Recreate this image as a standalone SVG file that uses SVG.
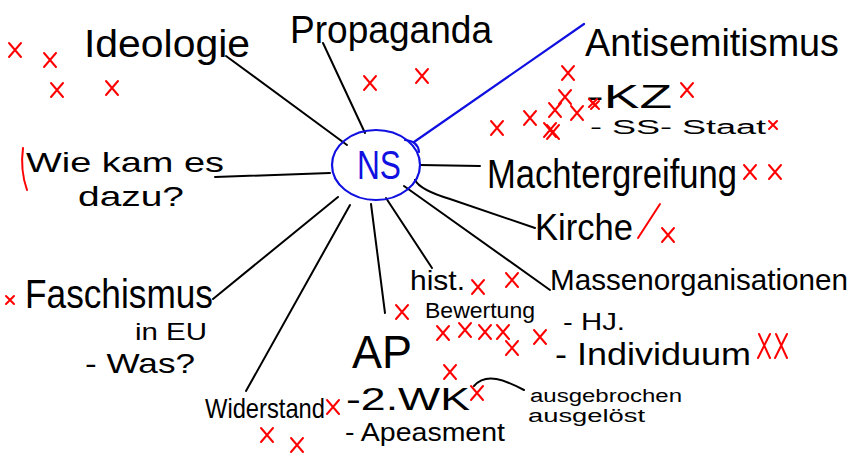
<svg xmlns="http://www.w3.org/2000/svg" width="859" height="468" viewBox="0 0 859 468">
<style>
text{font-family:"Liberation Sans","DejaVu Sans",sans-serif;fill:#000}
.ln{stroke:#000;stroke-width:2;fill:none;stroke-linecap:round}
.bl{stroke:#1010e0;stroke-width:2.2;fill:none;stroke-linecap:round}
.rd{stroke:#ff0000;stroke-width:2;fill:none;stroke-linecap:round}
</style>
<defs>
<path id="x" d="M-6,-7 L6,7 M6,-7 L-6,7"/>
<path id="xs" d="M-4,-4 L4,4 M4,-4 L-4,4"/>
<path id="xt" d="M-5,-12 L6,12 M6,-12 L-6,12"/>
</defs>
<rect width="859" height="468" fill="#fff"/>

<g id="connectors">
<path class="ln" d="M226,56 L347,145"/>
<path class="ln" d="M323,43 L365,133"/>
<path class="ln" d="M215,177 L330,173"/>
<path class="ln" d="M420,165 L480,166"/>
<path class="ln" d="M415,180 Q420,190 450,199 L535,228"/>
<path class="ln" d="M404,186 L550,290"/>
<path class="ln" d="M386,198 L432,268"/>
<path class="ln" d="M371,204 L385,313"/>
<path class="ln" d="M338,197 L213,299"/>
<path class="ln" d="M350,205 L246,391"/>
<path class="ln" d="M474,386 C486,372 505,380 524,390"/>
<path class="bl" d="M414,142 L584,24"/>
<path class="bl" d="M405,140 Q418,141 419,152"/>
</g>

<g id="node-ns">
<ellipse cx="376" cy="165" rx="44" ry="35" class="bl"/>
<text x="379" y="179" font-size="40" text-anchor="middle" style="fill:#1010e0" textLength="44" lengthAdjust="spacingAndGlyphs">NS</text>
</g>

<g id="node-ideologie">
<text x="84" y="57" font-size="38" textLength="166" lengthAdjust="spacingAndGlyphs">Ideologie</text>
</g>
<g id="node-propaganda">
<text x="290" y="43" font-size="38" textLength="202" lengthAdjust="spacingAndGlyphs">Propaganda</text>
</g>
<g id="node-antisemitismus">
<text x="585" y="56" font-size="38" textLength="254" lengthAdjust="spacingAndGlyphs">Antisemitismus</text>
<text x="586" y="108" font-size="34" textLength="86" lengthAdjust="spacingAndGlyphs">-KZ</text>
<text x="590" y="134" font-size="20" textLength="176" lengthAdjust="spacingAndGlyphs">- SS- Staat</text>
</g>
<g id="node-machtergreifung">
<text x="487" y="188" font-size="40" textLength="250" lengthAdjust="spacingAndGlyphs">Machtergreifung</text>
</g>
<g id="node-wie">
<text x="26" y="172" font-size="28" textLength="198" lengthAdjust="spacingAndGlyphs">Wie kam es</text>
<text x="78" y="206" font-size="28" textLength="106" lengthAdjust="spacingAndGlyphs">dazu?</text>
</g>
<g id="node-kirche">
<text x="535" y="240" font-size="36" textLength="98" lengthAdjust="spacingAndGlyphs">Kirche</text>
</g>
<g id="node-massen">
<text x="550" y="290" font-size="30" textLength="298" lengthAdjust="spacingAndGlyphs">Massenorganisationen</text>
<text x="563" y="330" font-size="24" textLength="62" lengthAdjust="spacingAndGlyphs">- HJ.</text>
<text x="555" y="365" font-size="32" textLength="196" lengthAdjust="spacingAndGlyphs">- Individuum</text>
</g>
<g id="node-hist">
<text x="410" y="290" font-size="28" textLength="55" lengthAdjust="spacingAndGlyphs">hist.</text>
<text x="425" y="318" font-size="22" textLength="110" lengthAdjust="spacingAndGlyphs">Bewertung</text>
</g>
<g id="node-faschismus">
<text x="25" y="308" font-size="40" textLength="188" lengthAdjust="spacingAndGlyphs">Faschismus</text>
<text x="135" y="340" font-size="24" textLength="72" lengthAdjust="spacingAndGlyphs">in EU</text>
<text x="85" y="373" font-size="28" textLength="110" lengthAdjust="spacingAndGlyphs">- Was?</text>
</g>
<g id="node-ap">
<text x="352" y="368" font-size="46" textLength="60" lengthAdjust="spacingAndGlyphs">AP</text>
<text x="346" y="410" font-size="32" textLength="124" lengthAdjust="spacingAndGlyphs">-2.WK</text>
<text x="345" y="441" font-size="26" textLength="160" lengthAdjust="spacingAndGlyphs">- Apeasment</text>
<text x="530" y="402" font-size="18" textLength="152" lengthAdjust="spacingAndGlyphs">ausgebrochen</text>
<text x="528" y="422" font-size="18" textLength="117" lengthAdjust="spacingAndGlyphs">ausgelöst</text>
</g>
<g id="node-widerstand">
<text x="205" y="418" font-size="28" textLength="120" lengthAdjust="spacingAndGlyphs">Widerstand</text>
</g>

<g id="marks" class="rd">
<use href="#x" x="15" y="50"/>
<use href="#x" x="50" y="60"/>
<use href="#x" x="57" y="90"/>
<use href="#x" x="112" y="88"/>
<use href="#x" x="370" y="83"/>
<use href="#x" x="422" y="76"/>
<use href="#x" x="568" y="73"/>
<use href="#x" x="565" y="97"/>
<use href="#x" x="555" y="110"/>
<use href="#x" x="577" y="113"/>
<use href="#xs" x="595" y="105"/>
<use href="#x" x="550" y="130"/>
<use href="#x" x="687" y="90"/>
<use href="#xs" x="773" y="125"/>
<use href="#x" x="497" y="128"/>
<use href="#x" x="530" y="118"/>
<use href="#x" x="553" y="132"/>
<use href="#xs" x="593" y="103"/>
<use href="#x" x="750" y="172"/>
<use href="#x" x="775" y="172"/>
<path d="M660,204 L638,238"/>
<use href="#x" x="668" y="235"/>
<path d="M23,148 Q20,170 27,190"/>
<use href="#xs" x="10" y="300"/>
<use href="#x" x="478" y="287"/>
<use href="#x" x="512" y="280"/>
<use href="#x" x="402" y="312"/>
<use href="#x" x="443" y="333"/>
<use href="#x" x="465" y="330"/>
<use href="#x" x="485" y="332"/>
<use href="#x" x="503" y="332"/>
<use href="#x" x="512" y="348"/>
<use href="#x" x="540" y="337"/>
<use href="#x" x="450" y="372"/>
<use href="#x" x="333" y="407"/>
<use href="#x" x="267" y="435"/>
<use href="#x" x="297" y="445"/>
<use href="#x" x="477" y="393"/>
<use href="#xt" x="764" y="346"/>
<use href="#xt" x="781" y="346"/>
</g>
</svg>
